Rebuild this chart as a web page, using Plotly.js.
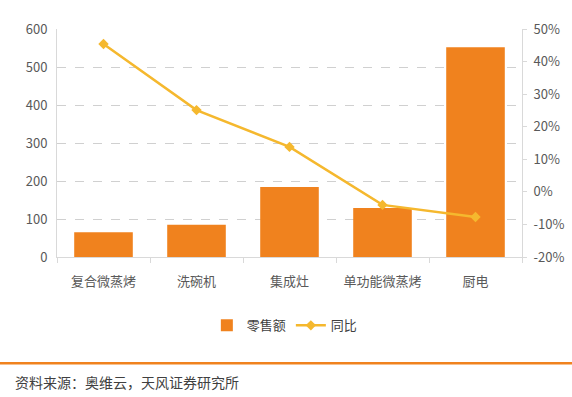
<!DOCTYPE html>
<html><head><meta charset="utf-8">
<script src="https://cdn.plot.ly/plotly-3.0.1.min.js"></script>
<style>html,body{margin:0;padding:0;background:#fff;}#c{width:572px;height:397px;}</style>
</head><body><div id="c"></div>
<script>
const categories = ['复合微蒸烤','洗碗机','集成灶','单功能微蒸烤','厨电'];
const sales = [65, 85, 184, 129, 552];
const yoy = [45.4, 25.1, 13.8, -4.0, -7.7];
const leftTicks = [0,100,200,300,400,500,600];
const rightTicks = [-20,-10,0,10,20,30,40,50];
const rightTickText = rightTicks.map(v => v + '%');
const sourceText = '资料来源：奥维云，天风证券研究所';

const font = "'Noto Sans CJK SC', 'Noto Sans', sans-serif";
const traces = [
  {type:'bar', x:categories, y:sales, name:'零售额', marker:{color:'#F0821E'}, width:0.63},
  {type:'scatter', mode:'lines+markers', x:categories, y:yoy, name:'同比', yaxis:'y2',
   line:{color:'#F5B82E', width:2.5}, marker:{symbol:'diamond', size:8, color:'#F5B82E'}}
];
const layout = {
  width:572, height:397,
  margin:{l:57, r:50, t:29, b:140},
  paper_bgcolor:'#fff', plot_bgcolor:'#fff',
  font:{family:font, color:'#595959', size:13},
  showlegend:true,
  legend:{orientation:'h', x:0.49, xanchor:'center', y:-0.30, yanchor:'middle', font:{size:13, color:'#404040'}},
  bargap:0.37,
  xaxis:{showline:true, linecolor:'#d9d9d9', ticks:'outside', tickcolor:'#d9d9d9', ticklen:5,
         tickson:'boundaries', showgrid:false, ticklabelstandoff:12, tickfont:{size:13, color:'#595959'}},
  yaxis:{range:[0,600], tickvals:leftTicks, showline:true, linecolor:'#d9d9d9', ticklabelstandoff:6,
         gridcolor:'#d0d0d0', griddash:'dash', zeroline:false, tickfont:{size:13, color:'#595959'}},
  yaxis2:{range:[-20,50], tickvals:rightTicks, ticktext:rightTickText, overlaying:'y', side:'right',
          showline:true, linecolor:'#d9d9d9', ticks:'outside', tickcolor:'#d9d9d9', ticklen:4, ticklabelstandoff:4,
          showgrid:false, zeroline:false, tickfont:{size:13, color:'#595959'}},
  shapes:[{type:'line', xref:'paper', yref:'paper', x0:-0.13, x1:1.11, y0:-0.466, y1:-0.466,
           line:{color:'#F0821E', width:2.5}}],
  annotations:[{text:sourceText, xref:'paper', yref:'paper', x:-0.095, y:-0.548, xanchor:'left', yanchor:'middle',
                showarrow:false, font:{size:14, color:'#404040'}}]
};
Plotly.newPlot('c', traces, layout, {displayModeBar:false, staticPlot:true});
</script></body></html>
